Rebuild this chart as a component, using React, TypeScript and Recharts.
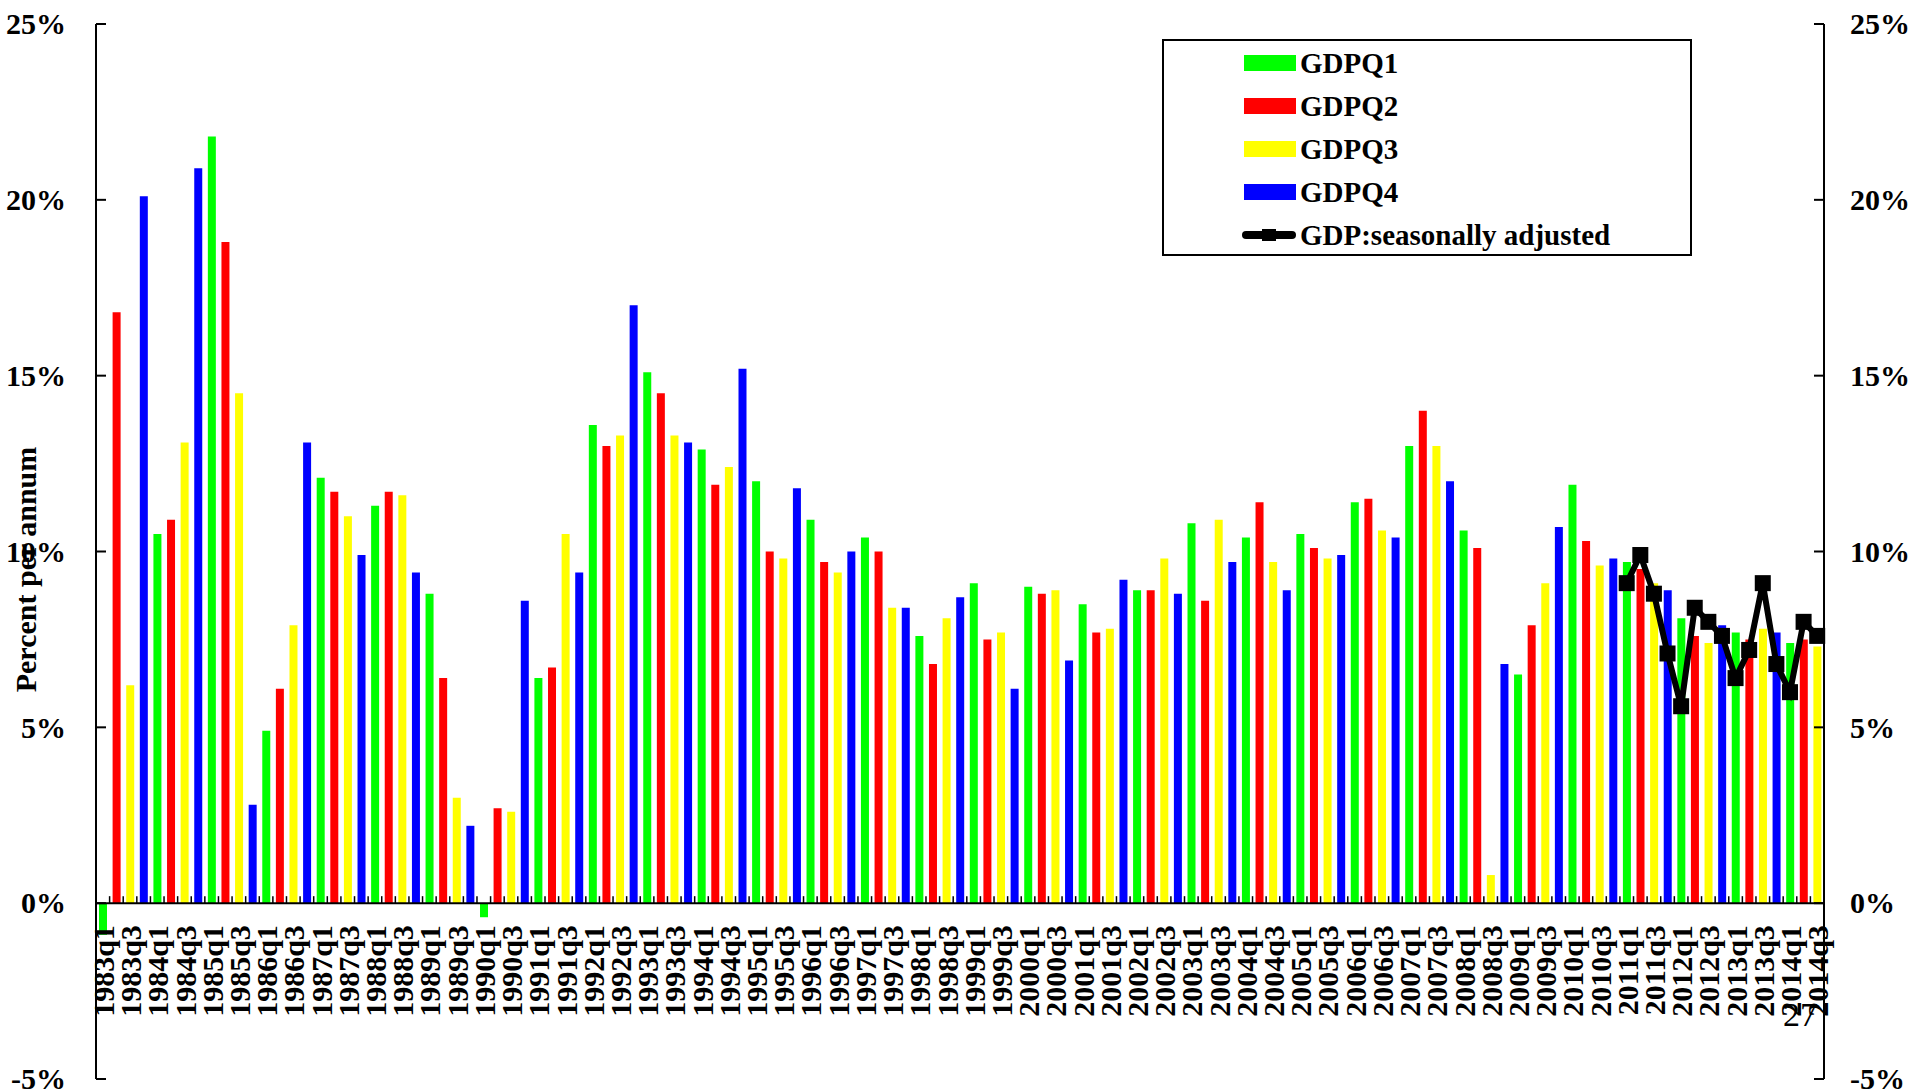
import React from "react";
import { ComposedChart, Bar, Line, XAxis, YAxis, ReferenceLine, Legend } from "recharts";

// real GDP growth, % p.a., 1983q1 .. 2014q3
const years = [1983, 1984, 1985, 1986, 1987, 1988, 1989, 1990, 1991, 1992, 1993, 1994, 1995, 1996, 1997, 1998,
  1999, 2000, 2001, 2002, 2003, 2004, 2005, 2006, 2007, 2008, 2009, 2010, 2011, 2012, 2013, 2014];
const quarters: string[] = [];
years.forEach((y) => [1, 2, 3, 4].forEach((q) => quarters.push(`${y}q${q}`)));
quarters.splice(quarters.indexOf("2014q4"), 1);

const gdp = [
  -0.9, 16.8, 6.2, 20.1,
  10.5, 10.9, 13.1, 20.9,
  21.8, 18.8, 14.5, 2.8,
  4.9, 6.1, 7.9, 13.1,
  12.1, 11.7, 11.0, 9.9,
  11.3, 11.7, 11.6, 9.4,
  8.8, 6.4, 3.0, 2.2,
  -0.4, 2.7, 2.6, 8.6,
  6.4, 6.7, 10.5, 9.4,
  13.6, 13.0, 13.3, 17.0,
  15.1, 14.5, 13.3, 13.1,
  12.9, 11.9, 12.4, 15.2,
  12.0, 10.0, 9.8, 11.8,
  10.9, 9.7, 9.4, 10.0,
  10.4, 10.0, 8.4, 8.4,
  7.6, 6.8, 8.1, 8.7,
  9.1, 7.5, 7.7, 6.1,
  9.0, 8.8, 8.9, 6.9,
  8.5, 7.7, 7.8, 9.2,
  8.9, 8.9, 9.8, 8.8,
  10.8, 8.6, 10.9, 9.7,
  10.4, 11.4, 9.7, 8.9,
  10.5, 10.1, 9.8, 9.9,
  11.4, 11.5, 10.6, 10.4,
  13.0, 14.0, 13.0, 12.0,
  10.6, 10.1, 0.8, 6.8,
  6.5, 7.9, 9.1, 10.7,
  11.9, 10.3, 9.6, 9.8,
  9.7, 9.5, 9.1, 8.9,
  8.1, 7.6, 7.4, 7.9,
  7.7, 7.5, 7.8, 7.7,
  7.4, 7.5, 7.3,
];

// seasonally adjusted, from 2011q1
const saStart = "2011q1";
const gdpSA = [9.1, 9.9, 8.8, 7.1, 5.6, 8.4, 8.0, 7.6, 6.4, 7.2, 9.1, 6.8, 6.0, 8.0, 7.6];

const yTicks = [-5, 0, 5, 10, 15, 20, 25];
const series = [
  { key: "q1", name: "GDPQ1", color: "#00ff00" },
  { key: "q2", name: "GDPQ2", color: "#ff0000" },
  { key: "q3", name: "GDPQ3", color: "#ffff00" },
  { key: "q4", name: "GDPQ4", color: "#0000ff" },
];
const saName = "GDP:seasonally adjusted";
const legendOrder = [...series.map((s) => s.name), saName];

const saIdx = quarters.indexOf(saStart);
const data = quarters.map((q, i) => {
  const row: any = { q };
  series.forEach((s, k) => (row[s.key] = i % 4 === k ? gdp[i] : null));
  const j = i - saIdx;
  row.sa = j >= 0 && j < gdpSA.length ? gdpSA[j] : null;
  return row;
});

const W = 1917;
const H = 1091;
const TOP = 24;
const BOTTOM = 12;
const LEFT_W = 96;
const RIGHT_W = 93;
const Y_MIN = -5;
const Y_MAX = 25;
const PLOT_H = H - TOP - BOTTOM;
const ZERO_Y = TOP + (PLOT_H * Y_MAX) / (Y_MAX - Y_MIN);
const BAND = (W - LEFT_W - RIGHT_W) / quarters.length;
const FONT = '"Liberation Serif", "Times New Roman", serif';

const XTick = (props: any) => {
  const { x, index, payload } = props;
  const edge = x - BAND / 2;
  return (
    <g>
      <line x1={edge} x2={edge} y1={ZERO_Y} y2={ZERO_Y - 7} stroke="#000" strokeWidth={1.5} />
      {index % 2 === 0 && (
        <text
          transform={`translate(${x},${ZERO_Y + 22}) rotate(-90)`}
          textAnchor="end"
          dy="0.37em"
          fontFamily={FONT}
          fontWeight="bold"
          fontSize={30}
          fill="#000"
        >
          {payload.value}
        </text>
      )}
    </g>
  );
};

const LeftTick = ({ x, y, payload }: any) => (
  <g>
    <line x1={x} x2={x + 10} y1={y} y2={y} stroke="#000" strokeWidth={2} />
    <text x={x - 30} y={y} dy="0.34em" textAnchor="end" fontFamily={FONT} fontWeight="bold" fontSize={30} fill="#000">
      {payload.value}%
    </text>
  </g>
);

const RightTick = ({ x, y, payload }: any) => (
  <g>
    <line x1={x - 10} x2={x} y1={y} y2={y} stroke="#000" strokeWidth={2} />
    <text x={x + 26} y={y} dy="0.34em" textAnchor="start" fontFamily={FONT} fontWeight="bold" fontSize={30} fill="#000">
      {payload.value}%
    </text>
  </g>
);

const SquareDot = ({ cx, cy }: any) => {
  if (cx == null || cy == null) return <g />;
  return <rect x={cx - 8} y={cy - 8} width={16} height={16} fill="#000" />;
};

const YLabel = ({ viewBox }: any) => {
  const cx = viewBox.x + 25;
  const cy = viewBox.y + viewBox.height / 2 + 18;
  return (
    <text
      transform={`translate(${cx},${cy}) rotate(-90)`}
      textAnchor="middle"
      dy="0.35em"
      fontFamily={FONT}
      fontWeight="bold"
      fontSize={30}
      fill="#000"
    >
      Percent per annum
    </text>
  );
};

const LegendBox = ({ payload }: any) => {
  const items = [...(payload || [])].sort(
    (a: any, b: any) => legendOrder.indexOf(a.value) - legendOrder.indexOf(b.value)
  );
  return (
    <svg width={530} height={217} style={{ display: "block" }}>
      <rect x={1} y={1} width={528} height={215} fill="#fff" stroke="#000" strokeWidth={2} />
      {items.map((p: any, i: number) => {
        const cy = 24 + i * 43;
        return (
          <g key={p.value}>
            {p.value === saName ? (
              <g>
                <line x1={84} x2={130} y1={cy} y2={cy} stroke="#000" strokeWidth={8} strokeLinecap="round" />
                <rect x={100} y={cy - 6} width={14} height={12} fill="#000" />
              </g>
            ) : (
              <rect x={82} y={cy - 8} width={52} height={16} fill={p.color} />
            )}
            <text x={138} y={cy} dy="0.34em" fontFamily={FONT} fontWeight="bold" fontSize={29} fill="#000">
              {p.value}
            </text>
          </g>
        );
      })}
    </svg>
  );
};

export default function App() {
  return (
    <div style={{ position: "relative", width: W, height: H, background: "#fff" }}>
      <style>{`body{margin:0}`}</style>
      <ComposedChart
        width={W}
        height={H}
        data={data}
        margin={{ top: TOP, right: 0, bottom: 0, left: 0 }}
        stackOffset="sign"
      >
        <XAxis
          dataKey="q"
          height={BOTTOM}
          interval={0}
          axisLine={false}
          tickLine={false}
          tick={<XTick />}
        />
        <YAxis
          yAxisId="left"
          width={LEFT_W}
          domain={[Y_MIN, Y_MAX]}
          ticks={yTicks}
          allowDataOverflow
          axisLine={{ stroke: "#000", strokeWidth: 2 }}
          tickLine={false}
          tickSize={0}
          tickMargin={0}
          tick={<LeftTick />}
          label={<YLabel />}
        />
        <YAxis
          yAxisId="right"
          orientation="right"
          width={RIGHT_W}
          domain={[Y_MIN, Y_MAX]}
          ticks={yTicks}
          allowDataOverflow
          axisLine={{ stroke: "#000", strokeWidth: 2 }}
          tickLine={false}
          tickSize={0}
          tickMargin={0}
          tick={<RightTick />}
        />
        <Legend
          layout="vertical"
          align="center"
          verticalAlign="middle"
          content={<LegendBox />}
          wrapperStyle={{ left: 1162, top: 39, width: 530, height: 217 }}
        />
        {series.map((s) => (
          <Bar
            key={s.key}
            yAxisId="left"
            dataKey={s.key}
            name={s.name}
            stackId="gdp"
            fill={s.color}
            barSize={8}
            isAnimationActive={false}
          />
        ))}
        <ReferenceLine yAxisId="left" y={0} stroke="#000" strokeWidth={2} />
        <Line
          yAxisId="left"
          dataKey="sa"
          name={saName}
          stroke="#000"
          strokeWidth={6}
          dot={<SquareDot />}
          activeDot={false}
          legendType="line"
          isAnimationActive={false}
        />
      </ComposedChart>
      <svg width={W} height={H} style={{ position: "absolute", left: 0, top: 0, pointerEvents: "none" }}>
        <text x={1783} y={1026} fontFamily={FONT} fontSize={34} fill="#000">
          27
        </text>
      </svg>
    </div>
  );
}
